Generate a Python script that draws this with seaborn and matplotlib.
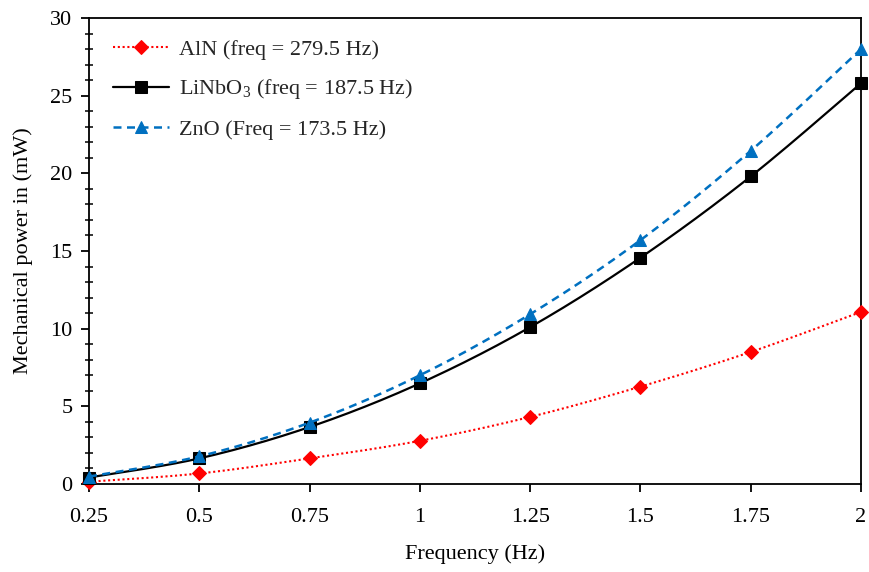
import numpy as np
import matplotlib
matplotlib.use("Agg")
import matplotlib.pyplot as plt
import seaborn as sns
from matplotlib.ticker import MultipleLocator

# Excitation frequency (Hz) and mechanical power (mW) for each material
frequency = [0.25, 0.5, 0.75, 1.0, 1.25, 1.5, 1.75, 2.0]
power_aln = [0.15, 0.68, 1.65, 2.78, 4.32, 6.27, 8.5, 11.08]
power_linbo3 = [0.42, 1.65, 3.67, 6.48, 10.1, 14.57, 19.8, 25.8]
power_zno = [0.48, 1.78, 3.95, 7.0, 10.93, 15.7, 21.45, 28.0]

labels = ["AlN (freq = 279.5 Hz)",
          r"LiNbO$_{\mathregular{3}}$ (freq = 187.5 Hz)",
          "ZnO (Freq = 173.5 Hz)"]

sns.set_theme(style="ticks")
plt.rcParams["font.family"] = ["Liberation Serif", "DejaVu Serif"]
plt.rcParams["mathtext.fontset"] = "custom"
plt.rcParams["mathtext.rm"] = "Liberation Serif"


def smooth(x, y, n=20):
    """Bezier smoothing through every point (Catmull-Rom style)."""
    x = np.asarray(x, float)
    y = np.asarray(y, float)
    P = np.column_stack([x, y])
    out = []
    for i in range(len(P) - 1):
        p0 = P[i - 1] if i > 0 else P[i]
        p1 = P[i]
        p2 = P[i + 1]
        p3 = P[i + 2] if i + 2 < len(P) else P[i + 1]
        c1 = p1 + (p2 - p0) / 6.0
        c2 = p2 - (p3 - p1) / 6.0
        t = np.linspace(0, 1, n, endpoint=False)[:, None]
        seg = ((1 - t) ** 3) * p1 + 3 * ((1 - t) ** 2) * t * c1 \
            + 3 * (1 - t) * t ** 2 * c2 + t ** 3 * p2
        out.append(seg)
    out.append(P[-1:])
    pts = np.vstack(out)
    marks = [i * n for i in range(len(P))]
    return pts[:, 0], pts[:, 1], marks


fig = plt.figure(figsize=(8.69, 5.72), dpi=100)
ax = fig.add_axes([0.1024, 0.1538, 0.8884, 0.8147])

styles = [
    (power_aln, "#FF0000", (0, (1, 1.3)), "D", 7, 1.5),
    (power_linbo3, "#000000", "-", "s", 8, 1.6),
    (power_zno, "#0070C0", (0, (3.2, 2.2)), "^", 8.5, 1.8),
]

for (vals, color, ls, mk, ms, lw), lab in zip(styles, labels):
    xs, ys, marks = smooth(frequency, vals)
    sns.lineplot(x=xs, y=ys, ax=ax, color=color, linestyle=ls, linewidth=lw,
                 marker=mk, markersize=ms, markevery=marks,
                 markeredgecolor=color, markerfacecolor=color,
                 label=lab, sort=False, estimator=None, clip_on=False,
                 zorder=3)

ax.set_xlim(0.25, 2.0)
ax.set_ylim(0, 30)
ax.set_xticks(frequency)
ax.set_xticklabels(["0.25", "0.5", "0.75", "1", "1.25", "1.5", "1.75", "2"])
ax.yaxis.set_major_locator(MultipleLocator(5))
ax.yaxis.set_minor_locator(MultipleLocator(1))

for side in ["left", "right", "top", "bottom"]:
    ax.spines[side].set_visible(True)
    ax.spines[side].set_color("black")
    ax.spines[side].set_linewidth(1.3)

ax.tick_params(axis="both", which="major", direction="out", length=6,
               width=1.3, color="black", labelsize=16, labelcolor="black",
               pad=8)
ax.tick_params(axis="y", which="minor", direction="inout", length=6,
               width=1.1, color="black")
ax.tick_params(axis="y", which="major", pad=6)
ax.tick_params(axis="x", which="major", pad=11)

ax.set_xlabel("Frequency (Hz)", fontsize=16, color="black", labelpad=13)
ax.set_ylabel("Mechanical power in (mW)", fontsize=16, color="black",
              labelpad=12)

leg = ax.legend(loc="upper left", bbox_to_anchor=(0.02, 0.974),
                borderaxespad=0, frameon=False, fontsize=16,
                handlelength=2.5, handletextpad=0.45, labelspacing=0.8)

fig.savefig("out.png", dpi=100)
